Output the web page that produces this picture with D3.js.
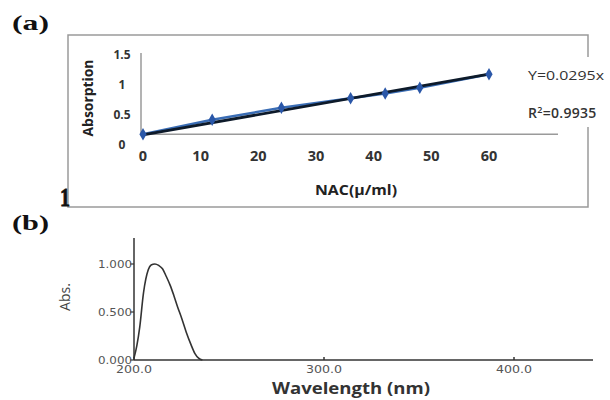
<!DOCTYPE html>
<html><head><meta charset="utf-8">
<script src="https://cdn.jsdelivr.net/npm/d3@7"></script>
<style>html,body{margin:0;padding:0;background:#fff;}</style>
</head><body>
<script>
// Panel (a) calibration data
const nacConc = [0, 12, 24, 36, 42, 48, 60];
const absorption = [0.18, 0.42, 0.62, 0.78, 0.86, 0.955, 1.18];
const trendX = [0, 60];
const trendY = [0.17, 1.18];
const aYTicks = [0, 0.5, 1, 1.5];
const aXTicks = [0, 10, 20, 30, 40, 50, 60];
const equationText = "Y=0.0295x";
const r2Text = "0.9935";

// Panel (b) spectrum
const wavelength = [200, 201.5, 203, 205, 207.5, 209, 211, 213, 215, 217, 219, 221, 223, 225, 227.5, 230, 232, 234, 236];
const absSpectrum = [0.02, 0.15, 0.34, 0.70, 0.94, 0.99, 1.0, 0.985, 0.95, 0.87, 0.78, 0.67, 0.55, 0.44, 0.29, 0.16, 0.07, 0.02, 0.0];
const bYTicks = [0, 0.5, 1.0];
const bXTicks = [200, 300, 400];

const svg = d3.select("body").append("svg").attr("width", 610).attr("height", 400);
const sans = "'Open Sans', 'Noto Sans', sans-serif";
const wide = "'DejaVu Sans', sans-serif";

// ---------- Panel (a) ----------
svg.append("text").attr("x", 12).attr("y", 30).attr("font-family", "'Liberation Serif', serif")
  .attr("font-weight", "bold").attr("font-size", 21).attr("fill", "#111")
  .attr("textLength", 37).attr("lengthAdjust", "spacingAndGlyphs").text("(a)");

// frame with gap on right
const frame = svg.append("g").attr("stroke", "#9a9a9a").attr("stroke-width", 1.5).attr("fill", "none");
frame.append("path").attr("d", "M588,57 L588,35 L68,35 L68,207 L588,207 L588,127");

svg.append("text").attr("x", 65).attr("y", 206).attr("text-anchor", "middle")
  .attr("font-family", "'Liberation Serif', serif").attr("font-weight", "bold").attr("font-size", 26).attr("fill", "#111")
  .attr("stroke", "#111").attr("stroke-width", 0.8)
  .attr("textLength", 10).attr("lengthAdjust", "spacingAndGlyphs").text("1");

const xa = d3.scaleLinear().domain([0, 60]).range([143, 489]);
const ya = d3.scaleLinear().domain([0, 1.5]).range([145, 55]);

// axes lines
svg.append("line").attr("x1", 141).attr("x2", 141).attr("y1", 53).attr("y2", ya(absorption[0]))
  .attr("stroke", "#9a9a9a").attr("stroke-width", 1.5);
svg.append("line").attr("x1", 141).attr("x2", 558).attr("y1", ya(absorption[0])).attr("y2", ya(absorption[0]))
  .attr("stroke", "#9a9a9a").attr("stroke-width", 1.5);

svg.append("g").selectAll("text").data(aYTicks).join("text")
  .attr("x", 122).attr("y", d => ya(d)).attr("dy", "0.35em").attr("text-anchor", "middle")
  .attr("font-family", sans).attr("font-weight", "bold").attr("font-size", 12).attr("fill", "#333")
  .text(d => d3.format("")(d));

svg.append("g").selectAll("text").data(aXTicks).join("text")
  .attr("x", d => xa(d)).attr("y", 161).attr("text-anchor", "middle")
  .attr("font-family", sans).attr("font-weight", "bold").attr("font-size", 14.5).attr("fill", "#333")
  .text(d => d);

svg.append("text").attr("transform", "translate(93,98) rotate(-90)").attr("text-anchor", "middle")
  .attr("font-family", sans).attr("font-weight", "bold").attr("font-size", 13.5).attr("fill", "#222")
  .attr("textLength", 77).attr("lengthAdjust", "spacingAndGlyphs").text("Absorption");

svg.append("text").attr("x", 356).attr("y", 195).attr("text-anchor", "middle")
  .attr("font-family", sans).attr("font-weight", "bold").attr("font-size", 14).attr("fill", "#222")
  .attr("textLength", 82).attr("lengthAdjust", "spacingAndGlyphs").text("NAC(μ/ml)");

// data line (blue)
const lineA = d3.line().x((d, i) => xa(nacConc[i])).y(d => ya(d));
svg.append("path").datum(absorption).attr("d", lineA).attr("fill", "none")
  .attr("stroke", "#3a6db5").attr("stroke-width", 2.5);
// trend line (black)
const lineT = d3.line().x((d, i) => xa(trendX[i])).y(d => ya(d));
svg.append("path").datum(trendY).attr("d", lineT).attr("fill", "none")
  .attr("stroke", "#0d1a2a").attr("stroke-width", 2.8);
// markers
svg.append("g").selectAll("path").data(absorption).join("path")
  .attr("transform", (d, i) => `translate(${xa(nacConc[i])},${ya(d)})`)
  .attr("d", d3.symbol().type(d3.symbolDiamond).size(45))
  .attr("fill", "#2a57a8");

svg.append("text").attr("x", 528).attr("y", 80)
  .attr("font-family", sans).attr("font-size", 13.5).attr("fill", "#333")
  .attr("textLength", 76).attr("lengthAdjust", "spacingAndGlyphs").text(equationText);
const r2 = svg.append("text").attr("x", 528).attr("y", 118)
  .attr("font-family", sans).attr("font-weight", "600").attr("font-size", 14).attr("fill", "#333")
  .attr("letter-spacing", 0.3);
r2.append("tspan").text("R");
r2.append("tspan").attr("font-size", 9).attr("dy", -5).text("2");
r2.append("tspan").attr("dy", 5).text("=" + r2Text);

// ---------- Panel (b) ----------
svg.append("text").attr("x", 12).attr("y", 230).attr("font-family", "'Liberation Serif', serif")
  .attr("font-weight", "bold").attr("font-size", 21).attr("fill", "#111")
  .attr("textLength", 37).attr("lengthAdjust", "spacingAndGlyphs").text("(b)");

const xb = d3.scaleLinear().domain([200, 400]).range([134, 514]);
const yb = d3.scaleLinear().domain([0, 1]).range([360, 264]);

svg.append("line").attr("x1", xb(200)).attr("x2", xb(200)).attr("y1", 238).attr("y2", yb(0))
  .attr("stroke", "#333").attr("stroke-width", 1.5);
svg.append("line").attr("x1", xb(200)).attr("x2", 593).attr("y1", yb(0)).attr("y2", yb(0))
  .attr("stroke", "#333").attr("stroke-width", 1.5);

svg.append("g").selectAll("line").data(bYTicks).join("line")
  .attr("x1", xb(200) - 4).attr("x2", xb(200)).attr("y1", d => yb(d)).attr("y2", d => yb(d))
  .attr("stroke", "#333").attr("stroke-width", 1.2);
svg.append("g").selectAll("text").data(bYTicks).join("text")
  .attr("x", 132).attr("y", d => yb(d)).attr("dy", "0.35em").attr("text-anchor", "end")
  .attr("font-family", wide).attr("font-size", 10).attr("fill", "#555")
  .attr("textLength", 34).attr("lengthAdjust", "spacingAndGlyphs")
  .text(d => d3.format(".3f")(d));

svg.append("g").selectAll("line").data(bXTicks).join("line")
  .attr("x1", d => xb(d)).attr("x2", d => xb(d)).attr("y1", yb(0) - 3).attr("y2", yb(0))
  .attr("stroke", "#333").attr("stroke-width", 1.5);
svg.append("g").selectAll("text").data(bXTicks).join("text")
  .attr("x", d => xb(d)).attr("y", 372.5).attr("text-anchor", "middle")
  .attr("font-family", wide).attr("font-size", 10).attr("fill", "#555")
  .attr("textLength", 36).attr("lengthAdjust", "spacingAndGlyphs")
  .text(d => d3.format(".1f")(d));

svg.append("text").attr("transform", "translate(70,297) rotate(-90)").attr("text-anchor", "middle")
  .attr("font-family", sans).attr("font-size", 14).attr("fill", "#444").text("Abs.");

svg.append("text").attr("x", 351).attr("y", 394).attr("text-anchor", "middle")
  .attr("font-family", sans).attr("font-weight", "bold").attr("font-size", 16).attr("fill", "#333")
  .attr("textLength", 158).attr("lengthAdjust", "spacingAndGlyphs").text("Wavelength (nm)");

const lineB = d3.line().x((d, i) => xb(wavelength[i])).y(d => yb(d)).curve(d3.curveMonotoneX);
svg.append("path").datum(absSpectrum).attr("d", lineB).attr("fill", "none")
  .attr("stroke", "#333").attr("stroke-width", 1.6);
</script>
</body></html>
